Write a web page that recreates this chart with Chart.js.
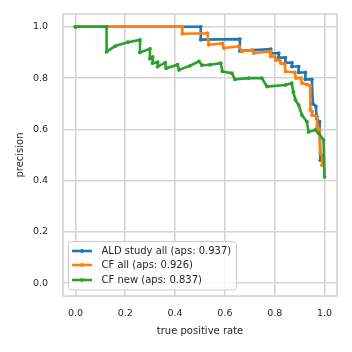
<!DOCTYPE html>
<html>
<head>
<meta charset="utf-8">
<script src="https://cdn.jsdelivr.net/npm/chart.js@4/dist/chart.umd.min.js"></script>
<style>
  html, body { margin: 0; padding: 0; background: #fff; }
</style>
</head>
<body>
<canvas id="myChart" width="352" height="352"></canvas>
<script>
var xTicks = [0.0, 0.2, 0.4, 0.6, 0.8, 1.0];
var yTicks = [0.0, 0.2, 0.4, 0.6, 0.8, 1.0];
var seriesNames = ["ALD study all (aps: 0.937)", "CF all (aps: 0.926)", "CF new (aps: 0.837)"];
var seriesColors = ["#1f77b4", "#ff7f0e", "#2ca02c"];

// precision-recall points
var aldRecall = [0, 0.503, 0.503, 0.66, 0.66, 0.784, 0.784, 0.816, 0.816, 0.843, 0.843, 0.869, 0.869, 0.896, 0.896, 0.923, 0.923, 0.949, 0.953, 0.965, 0.969, 0.98, 0.983];
var aldPrecision = [1, 1, 0.95, 0.952, 0.906, 0.913, 0.897, 0.897, 0.88, 0.88, 0.86, 0.86, 0.845, 0.845, 0.822, 0.822, 0.795, 0.795, 0.70, 0.69, 0.64, 0.63, 0.48];

var cfAllRecall = [0, 0.429, 0.429, 0.53, 0.535, 0.59, 0.596, 0.656, 0.668, 0.71, 0.716, 0.784, 0.784, 0.80, 0.805, 0.82, 0.825, 0.84, 0.843, 0.88, 0.885, 0.905, 0.91, 0.93, 0.943, 0.943, 0.95, 0.95, 0.97, 0.97, 0.98, 0.983, 0.99, 0.99];
var cfAllPrecision = [1, 1, 0.973, 0.975, 0.93, 0.935, 0.917, 0.924, 0.904, 0.91, 0.897, 0.904, 0.884, 0.884, 0.87, 0.87, 0.858, 0.855, 0.826, 0.822, 0.80, 0.80, 0.78, 0.775, 0.77, 0.676, 0.67, 0.656, 0.65, 0.61, 0.60, 0.506, 0.50, 0.46];

var cfNewRecall = [0, 0.125, 0.125, 0.16, 0.21, 0.259, 0.259, 0.299, 0.299, 0.31, 0.31, 0.33, 0.33, 0.36, 0.364, 0.41, 0.416, 0.46, 0.496, 0.508, 0.54, 0.583, 0.59, 0.628, 0.64, 0.696, 0.748, 0.769, 0.843, 0.868, 0.875, 0.883, 0.896, 0.909, 0.929, 0.936, 0.963, 0.976, 0.996, 1.0];
var cfNewPrecision = [1, 1, 0.903, 0.925, 0.94, 0.949, 0.90, 0.914, 0.876, 0.882, 0.858, 0.862, 0.845, 0.86, 0.838, 0.852, 0.832, 0.848, 0.865, 0.85, 0.852, 0.858, 0.826, 0.819, 0.795, 0.80, 0.80, 0.767, 0.773, 0.78, 0.745, 0.715, 0.695, 0.656, 0.63, 0.59, 0.598, 0.585, 0.559, 0.415];

var FONT = "'DejaVu Sans', sans-serif";
var TEXT = "#262626";
var GRID = "#d4d4d4";

function toPoints(xs, ys) {
  return xs.map(function(x, i) { return { x: x, y: ys[i] }; });
}

function makeDataset(idx, xs, ys) {
  return {
    label: seriesNames[idx],
    data: toPoints(xs, ys),
    borderColor: seriesColors[idx],
    backgroundColor: seriesColors[idx],
    borderWidth: 2.6,
    pointRadius: 1.9,
    pointBorderWidth: 0,
    tension: 0,
    order: 3 - idx
  };
}

// axes frame + legend box in lower left corner
var frameAndLegend = {
  id: 'frameAndLegend',
  beforeDatasetsDraw: function(chart) {
    var a = chart.chartArea, ctx = chart.ctx;
    ctx.save();
    ctx.strokeStyle = GRID;
    ctx.lineWidth = 1.6;
    ctx.strokeRect(a.left, a.top, a.right - a.left, a.bottom - a.top);
    ctx.restore();
  },
  afterDraw: function(chart) {
    var ctx = chart.ctx;
    var bx = 68.5, by = 241.5, bw = 168, bh = 48.5, r = 3;
    ctx.save();
    ctx.beginPath();
    ctx.moveTo(bx + r, by);
    ctx.arcTo(bx + bw, by, bx + bw, by + bh, r);
    ctx.arcTo(bx + bw, by + bh, bx, by + bh, r);
    ctx.arcTo(bx, by + bh, bx, by, r);
    ctx.arcTo(bx, by, bx + bw, by, r);
    ctx.closePath();
    ctx.fillStyle = "rgba(255,255,255,0.8)";
    ctx.fill();
    ctx.strokeStyle = "#cccccc";
    ctx.lineWidth = 1;
    ctx.stroke();
    ctx.font = "10px " + FONT;
    ctx.textBaseline = "middle";
    ctx.textAlign = "left";
    var rows = [251, 265, 280];
    for (var i = 0; i < seriesNames.length; i++) {
      ctx.strokeStyle = seriesColors[i];
      ctx.lineWidth = 2.6;
      ctx.beginPath();
      ctx.moveTo(72, rows[i]);
      ctx.lineTo(92, rows[i]);
      ctx.stroke();
      ctx.fillStyle = seriesColors[i];
      ctx.beginPath();
      ctx.arc(82, rows[i], 1.9, 0, Math.PI * 2);
      ctx.fill();
      ctx.fillStyle = TEXT;
      ctx.fillText(seriesNames[i], 101.5, rows[i]);
    }
    ctx.restore();
  }
};

var ctx = document.getElementById('myChart');
var chart = new Chart(ctx, {
  type: 'line',
  data: {
    datasets: [
      makeDataset(0, aldRecall, aldPrecision),
      makeDataset(1, cfAllRecall, cfAllPrecision),
      makeDataset(2, cfNewRecall, cfNewPrecision)
    ]
  },
  options: {
    responsive: false,
    animation: false,
    devicePixelRatio: 1,
    layout: { padding: { left: 0, right: 15, top: 14, bottom: 0 } },
    plugins: {
      legend: { display: false },
      tooltip: { enabled: false }
    },
    scales: {
      x: {
        type: 'linear',
        min: -0.05,
        max: 1.05,
        afterBuildTicks: function(s) { s.ticks = xTicks.map(function(v) { return { value: v }; }); },
        afterFit: function(s) { s.height = 56; s.paddingLeft = 0; s.paddingRight = 0; },
        grid: { color: GRID, lineWidth: 1.6, drawTicks: false },
        border: { display: false },
        ticks: {
          padding: 12,
          color: TEXT,
          font: { family: FONT, size: 9.5 },
          maxRotation: 0,
          callback: function(v) { return v.toFixed(1); }
        },
        title: {
          display: true,
          text: 'true positive rate',
          color: TEXT,
          font: { family: FONT, size: 10 },
          padding: { top: 0, bottom: 15 }
        }
      },
      y: {
        type: 'linear',
        min: -0.05,
        max: 1.05,
        afterBuildTicks: function(s) { s.ticks = yTicks.map(function(v) { return { value: v }; }); },
        afterFit: function(s) { s.width = 63; s.paddingTop = 0; s.paddingBottom = 0; },
        grid: { color: GRID, lineWidth: 1.6, drawTicks: false },
        border: { display: false },
        ticks: {
          padding: 15,
          color: TEXT,
          font: { family: FONT, size: 9.5 },
          callback: function(v) { return v.toFixed(1); }
        },
        title: {
          display: true,
          text: 'precision',
          color: TEXT,
          font: { family: FONT, size: 10 },
          padding: { top: 14, bottom: 0 }
        }
      }
    }
  },
  plugins: [frameAndLegend]
});
</script>
</body>
</html>
